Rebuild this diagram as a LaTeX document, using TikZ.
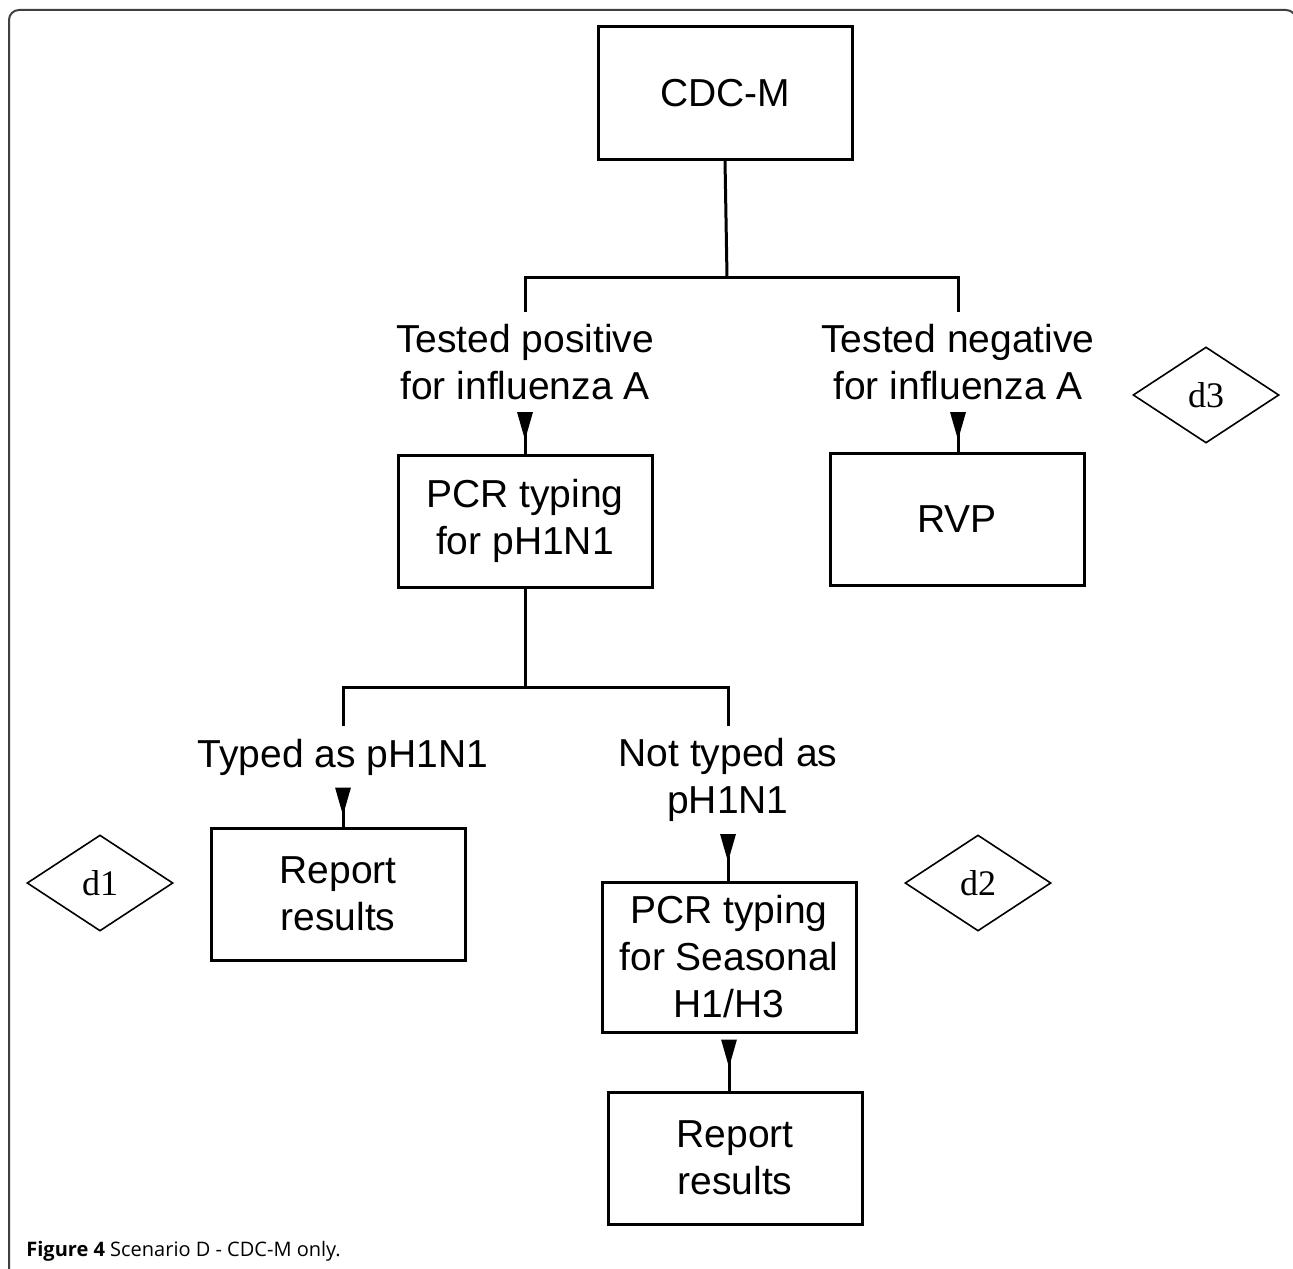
\documentclass[tikz,border=0pt]{standalone}
\usepackage{fontspec}
\setmainfont{Liberation Sans}
\newfontfamily\capfont{Open Sans}
\newfontfamily\tagfont{Liberation Serif}
\usetikzlibrary{shapes.geometric,arrows.meta}

\begin{document}
\begin{tikzpicture}[x=0.5pt,y=-0.5pt,
        font=\fontsize{19.5}{23.5}\selectfont,
        box/.style={draw,line width=1.5pt,minimum width=127pt,minimum height=66pt,align=center,inner sep=0pt},
        lbl/.style={align=center,inner sep=6pt},
        tag/.style={draw,diamond,line width=0.8pt,minimum width=73pt,minimum height=48pt,inner sep=0pt,font=\tagfont\fontsize{18}{18}\selectfont},
        link/.style={line width=1.5pt},
        feed/.style={line width=1.5pt,{Triangle[reversed,length=14pt,width=7.5pt]}-}]
        %% Frame and caption
        \useasboundingbox (0,0) rectangle (1293,1268);
        \draw[line width=1pt,black!75,rounded corners=5pt] (9,1275) -- (9,10) -- (1296,10) -- (1296,1275);
        \node[anchor=base west,inner sep=0pt,font=\capfont\fontsize{10}{12}\selectfont] (caption) at (26,1256) {\textbf{Figure 4} Scenario D - CDC-M only.};
        %% Boxes
        \node[box] (cdcm) at (725,93) {CDC-M};
        \node[box] (pcrA) at (525,521) {PCR typing\\for pH1N1};
        \node[box] (rvp) at (957,519) {RVP};
        \node[box] (repA) at (338,894) {Report\\results};
        \node[box,minimum height=75pt] (pcrB) at (729,957) {PCR typing\\for Seasonal\\H1/H3};
        \node[box] (repB) at (735,1158) {Report\\results};
        %% Branch labels
        \node[lbl] (pos) at (525,362) {Tested positive\\for influenza A};
        \node[lbl] (neg) at (958,362) {Tested negative\\for influenza A};
        \node[lbl] (typed) at (343,757) {Typed as pH1N1};
        \node[lbl] (nottyped) at (728,780) {Not typed as\\pH1N1};
        %% Decision tags
        \node[tag] (d1) at (100,883) {d1};
        \node[tag] (d2) at (978,883) {d2};
        \node[tag] (d3) at (1206,395) {d3};
        %% Forks
        \coordinate (forkA) at (727,277);
        \coordinate (forkB) at (525,687);
        \draw[link] (cdcm.south) -- (forkA);
        \draw[link] (pos.north) |- (forkA) -| (neg.north);
        \draw[link] (pcrA.south) -- (forkB);
        \draw[link] (typed.north) |- (forkB) -| (nottyped.north);
        %% Arrows into boxes
        \draw[feed] (pos.south) -- (pos.south |- pcrA.north);
        \draw[feed] (neg.south) -- (neg.south |- rvp.north);
        \draw[feed] (typed.south) -- (typed.south |- repA.north);
        \draw[feed] (nottyped.south) -- (nottyped.south |- pcrB.north);
        \draw[feed,shorten <=3pt] (pcrB.south) -- (pcrB.south |- repB.north);
\end{tikzpicture}
\end{document}
